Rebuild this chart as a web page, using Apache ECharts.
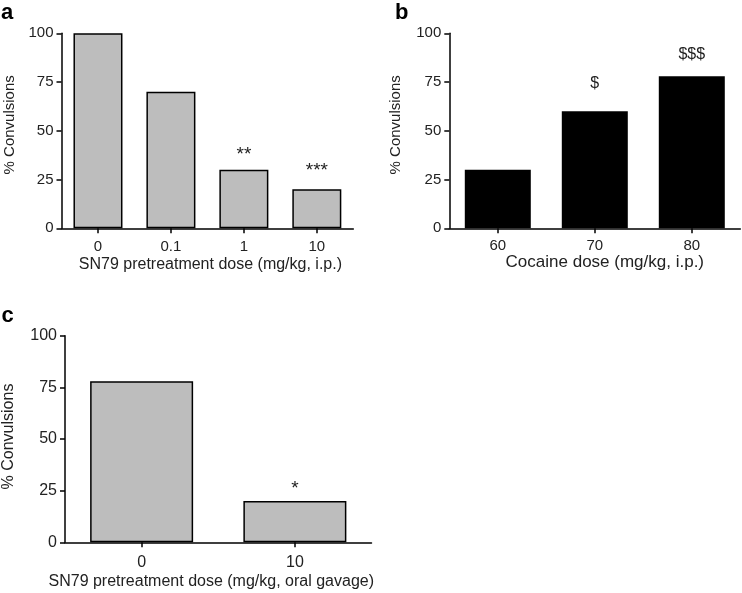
<!DOCTYPE html>
<html>
<head>
<meta charset="utf-8">
<script src="https://cdn.jsdelivr.net/npm/echarts@6/dist/echarts.min.js"></script>
<style>
html,body{margin:0;padding:0;background:#fff;}
#c{width:742px;height:593px;}
</style>
</head>
<body>
<div id="c"></div>
<script>
// ---- data ----
const catsA = ['0', '0.1', '1', '10'];
const valsA = [100, 70, 30, 20];
const notesA = ['', '', '**', '***'];

const catsB = ['60', '70', '80'];
const valsB = [30, 60, 78];
const notesB = ['', '$', '$$$'];

const catsC = ['0', '10'];
const valsC = [78, 20];
const notesC = ['', '*'];

const yTicks = [0, 25, 50, 75, 100];

const titleA = 'SN79 pretreatment dose (mg/kg, i.p.)';
const titleB = 'Cocaine dose (mg/kg, i.p.)';
const titleC = 'SN79 pretreatment dose (mg/kg, oral gavage)';
const yTitle = '% Convulsions';

// ---- styling ----
const FONT = '"Liberation Sans", Arial, sans-serif';
const TXT = '#222';
const noteStyleA = [null, null, {d: 5.6, fs: 19}, {d: 8.6, fs: 19}];
const noteStyleB = [null, {d: 19.7, fs: 16}, {d: 13.2, fs: 16}];
const noteStyleC = [null, {d: 3, fs: 19}];

function mkData(vals, notes, st) {
  return vals.map((v, i) => ({
    value: v,
    label: {
      show: notes[i] !== '',
      formatter: notes[i],
      position: 'top',
      distance: st[i] ? st[i].d : 5,
      fontFamily: FONT,
      fontSize: st[i] ? st[i].fs : 15,
      color: TXT
    }
  }));
}

function xAxis(grid, cats, name, fs, nfs, labelMargin, nameGap, namePad) {
  return {
    type: 'category', gridIndex: grid, data: cats,
    name: name, nameLocation: 'middle', nameGap: nameGap,
    nameTextStyle: {fontFamily: FONT, fontSize: nfs, color: TXT, padding: namePad},
    axisLine: {lineStyle: {color: '#000', width: 1.5}},
    axisTick: {show: true, alignWithLabel: true, length: 5, lineStyle: {color: '#000', width: 1.5}},
    axisLabel: {fontFamily: FONT, fontSize: fs, color: TXT, margin: labelMargin},
    splitLine: {show: false}
  };
}
function yAxis(grid, fs, nameGap, shift) {
  return {
    type: 'value', gridIndex: grid, min: yTicks[0], max: yTicks[yTicks.length - 1], interval: 25,
    name: yTitle, nameLocation: 'middle', nameGap: nameGap, nameRotate: 90,
    nameTextStyle: {fontFamily: FONT, fontSize: fs, color: TXT, padding: [0, 0, 0, shift]},
    axisLine: {show: true, lineStyle: {color: '#000', width: 1.5}},
    axisTick: {show: true, length: 5, lineStyle: {color: '#000', width: 1.5}},
    axisLabel: {fontFamily: FONT, fontSize: fs, color: TXT, margin: 8},
    splitLine: {show: false}
  };
}

const chart = echarts.init(document.getElementById('c'), null, {renderer: 'canvas'});
chart.setOption({
  animation: false,
  backgroundColor: '#fff',
  grid: [
    {left: 61.5, top: 33.3, width: 291.8, height: 195},
    {left: 449.3, top: 33.3, width: 291, height: 195},
    {left: 62.3, top: 335.7, width: 309.2, height: 206.6}
  ],
  xAxis: [
    xAxis(0, catsA, titleA, 15, 16, 11.5, 28.5, [0, 0, 0, 6]),
    xAxis(1, catsB, titleB, 15, 17, 10, 19.5, [0, 0, 0, 20]),
    xAxis(2, catsC, titleC, 16, 16, 12.5, 31.5, [0, 14, 0, 0])
  ],
  yAxis: [
    yAxis(0, 15, 44, 12),
    yAxis(1, 15, 45.5, 12),
    yAxis(2, 16, 48, 5)
  ],
  series: [
    {type: 'bar', xAxisIndex: 0, yAxisIndex: 0, barWidth: 49,
     itemStyle: {color: '#bdbdbd', borderColor: '#000', borderWidth: 1.5},
     data: mkData(valsA, notesA, noteStyleA)},
    {type: 'bar', xAxisIndex: 1, yAxisIndex: 1, barWidth: 66,
     itemStyle: {color: '#000', borderColor: '#000', borderWidth: 0},
     data: mkData(valsB, notesB, noteStyleB)},
    {type: 'bar', xAxisIndex: 2, yAxisIndex: 2, barWidth: 103,
     itemStyle: {color: '#bdbdbd', borderColor: '#000', borderWidth: 1.5},
     data: mkData(valsC, notesC, noteStyleC)}
  ],
  graphic: [
    {type: 'text', x: 1, y: 12.5, style: {text: 'a', font: 'bold 22px ' + FONT, fill: '#000', verticalAlign: 'middle'}},
    {type: 'text', x: 395, y: 12.8, style: {text: 'b', font: 'bold 22px ' + FONT, fill: '#000', verticalAlign: 'middle'}},
    {type: 'text', x: 1.5, y: 315.6, style: {text: 'c', font: 'bold 22px ' + FONT, fill: '#000', verticalAlign: 'middle'}}
  ]
});
</script>
</body>
</html>
